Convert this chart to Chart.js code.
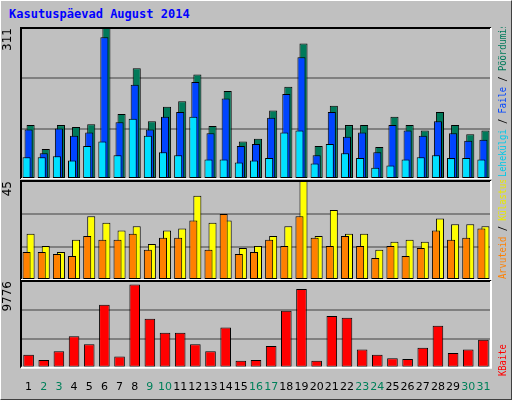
<!DOCTYPE html>
<html>
<head>
<meta charset="utf-8">
<script src="https://cdn.jsdelivr.net/npm/chart.js@4"></script>
<style>
  body { margin: 0; background: #fff; }
  #frame { position: relative; width: 510px; height: 398px; background: #c0c0c0;
           border-left: 1px solid #fff; border-top: 1px solid #fff;
           border-right: 1px solid #404040; border-bottom: 1px solid #404040; }
  #title { position: absolute; left: 8px; top: 6px; font: bold 12px "DejaVu Sans Mono", monospace; color: #0000ff; }
  canvas { position: absolute; left: 0; }
</style>
</head>
<body>
<div id="frame">
  <div id="title">Kasutuspäevad August 2014</div>
  <canvas id="c1" style="top:26px"></canvas>
  <canvas id="c2" style="top:179px"></canvas>
  <canvas id="c3" style="top:279px"></canvas>
</div>
<script>
// Daily statistics, August 2014
const days = Array.from({ length: 31 }, (_, i) => String(i + 1));
const weekends = [2, 3, 9, 10, 16, 17, 23, 24, 30, 31];

const hits  = [111, 62, 111, 107, 113, 311, 134, 228, 119, 149, 160, 215, 109, 181, 77, 83,
               141, 190, 279, 68, 151, 111, 111, 66, 128, 111, 100, 138, 111, 92, 100];
const files = [102, 53, 104, 89, 96, 292, 117, 194, 102, 128, 138, 200, 94, 166, 68, 72,
               126, 175, 251, 49, 138, 87, 96, 55, 111, 100, 89, 119, 94, 79, 81];
const pages = [45, 45, 47, 38, 68, 77, 49, 124, 89, 55, 49, 128, 40, 40, 34, 38,
               43, 96, 100, 32, 72, 53, 43, 23, 28, 40, 45, 49, 43, 43, 40];

const visits = [21, 15.5, 12.7, 18.3, 29, 26, 22.5, 24.4, 16.4, 22.5, 23.4, 38.3, 26, 27, 14.6, 15.5,
                20, 24.4, 45, 20, 31.8, 21, 21, 13.7, 17.4, 18.3, 17.4, 28, 25.3, 25.3, 24.4];
const hosts  = [12.7, 12.7, 11.8, 10.9, 20, 18.3, 18.3, 21, 13.7, 19.2, 19.2, 27, 13.7, 30, 11.8, 12.7,
                18.3, 15.5, 29, 19.2, 15.5, 20, 15.5, 10, 15.5, 10.9, 14.6, 22.5, 18.3, 19.2, 23.4];

const kbytes = [1481, 889, 1876, 3555, 2666, 7110, 1284, 9380, 5530, 3950, 3950, 2666, 1876, 4542, 790, 889,
                2469, 6419, 8887, 790, 5826, 5629, 2074, 1481, 1086, 987, 2271, 4740, 1679, 2074, 3160];

const maxTop = 311, maxMid = 45, maxBot = 9776;

// emboss border + rotated coloured legend on the right
const panelPlugin = {
  id: 'panel',
  afterDatasetsDraw(chart, args, opts) {
    const { ctx, chartArea: a } = chart;
    ctx.save();
    ctx.lineWidth = 2;
    ctx.strokeStyle = '#000';
    ctx.beginPath();
    ctx.moveTo(a.left, a.bottom); ctx.lineTo(a.left, a.top); ctx.lineTo(a.right, a.top);
    ctx.stroke();
    ctx.strokeStyle = '#fff';
    ctx.beginPath();
    ctx.moveTo(a.right, a.top); ctx.lineTo(a.right, a.bottom); ctx.lineTo(a.left, a.bottom);
    ctx.stroke();
    ctx.translate(a.right + 12, opts.startY);
    ctx.rotate(-Math.PI / 2);
    ctx.scale(0.88, 1);
    ctx.font = '10px "DejaVu Sans Mono", monospace';
    ctx.textBaseline = 'middle';
    let x = 0;
    opts.parts.forEach(([t, c]) => {
      ctx.fillStyle = c;
      ctx.fillText(t, x, 0);
      x += ctx.measureText(t).width;
    });
    ctx.restore();
  }
};

function yScale(max, scaleMax, title) {
  return {
    min: 0, max: scaleMax,
    ticks: { display: false, stepSize: scaleMax / 3 },
    border: { display: false },
    grid: {
      drawTicks: false,
      color: c => (c.tick.value > 0 && c.tick.value < scaleMax - 0.01 ? '#808080' : 'rgba(0,0,0,0)'),
      lineWidth: 2
    },
    title: { display: true, text: title, align: 'end', padding: 0,
             color: '#000', font: { family: 'DejaVu Sans', size: 12 } },
    afterFit: s => { s.width = 20; }
  };
}

function makeChart(id, height, datasets, max, scaleMax, catPct, barPct, legend, showX) {
  const el = document.getElementById(id);
  el.width = 512; el.height = height;
  el.style.width = '512px'; el.style.height = height + 'px';
  return new Chart(el, {
    type: 'bar',
    data: { labels: days, datasets: datasets },
    options: {
      responsive: false,
      animation: false,
      layout: { padding: { right: 22, top: 1 } },
      datasets: { bar: { categoryPercentage: catPct, barPercentage: barPct, borderColor: '#000', borderWidth: 1, borderSkipped: false } },
      plugins: { legend: { display: false }, tooltip: { enabled: false }, panel: legend },
      scales: {
        x: {
          display: showX,
          grid: { display: false },
          border: { display: false },
          ticks: {
            padding: 5,
            maxRotation: 0, autoSkip: false,
            font: { family: 'DejaVu Sans', size: 11 },
            color: c => (weekends.includes(c.index + 1) ? '#00805a' : '#000')
          }
        },
        y: yScale(max, scaleMax, String(max))
      }
    },
    plugins: [panelPlugin]
  });
}

makeChart('c1', 152, [
  { data: hits, backgroundColor: '#007a5a', order: 3 },
  { data: files, backgroundColor: '#0044ff', order: 2 },
  { data: pages, backgroundColor: '#00e0ff', order: 1 }
], maxTop, maxTop, 0.4, 4,
  { startY: 150, parts: [['Lehekülgi', '#00c8e8'], [' / ', '#000'], ['Faile', '#0044ff'], [' / ', '#000'], ['Pöördumisi', '#007a5a']] }, false);

makeChart('c2', 100, [
  { data: visits, backgroundColor: '#ffff00', order: 2 },
  { data: hosts, backgroundColor: '#ff8000', order: 1 }
], maxMid, maxMid, 0.53, 2,
  { startY: 99, parts: [['Arvuteid', '#ff8000'], [' / ', '#000'], ['Külastused', '#e8e800']] }, false);

makeChart('c3', 119, [
  { data: kbytes, backgroundColor: '#ff0000' }
], maxBot, maxBot, 1, 0.7,
  { startY: 96, parts: [['KBaite', '#ff0000']] }, true);
</script>
</body>
</html>
